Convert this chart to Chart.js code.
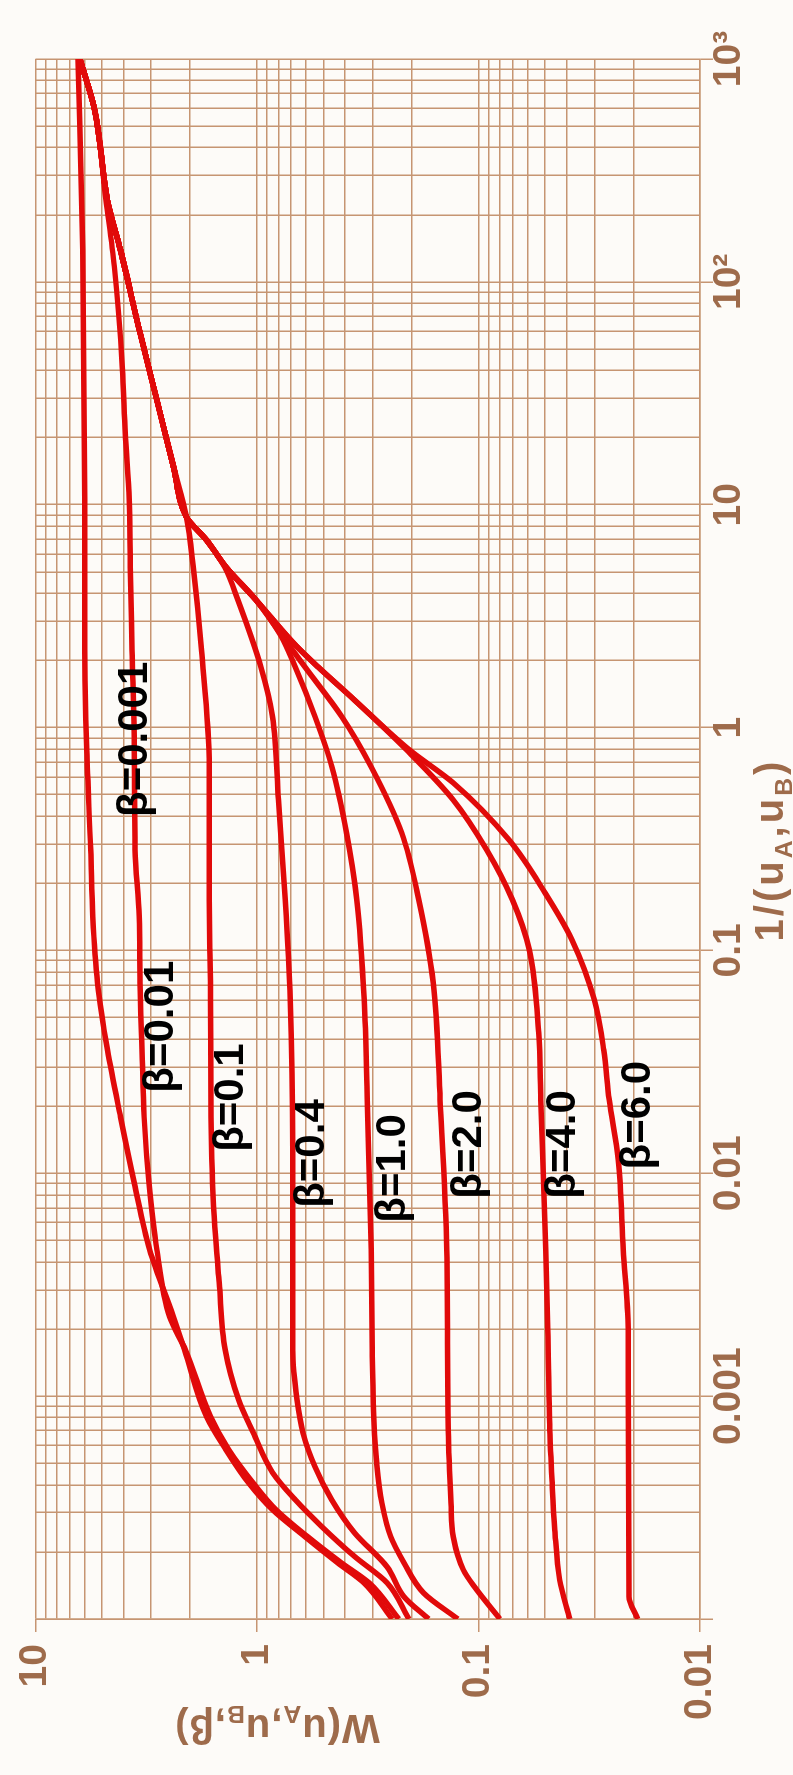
<!DOCTYPE html>
<html>
<head>
<meta charset="utf-8">
<script src="https://cdn.jsdelivr.net/npm/chart.js@4.4.1/dist/chart.umd.min.js"></script>
<style>
  html, body { margin: 0; padding: 0; background: #fdfbf8; overflow: hidden; }
  /* chart is drawn landscape, then turned a quarter counter-clockwise */
  #wrap { position: absolute; left: 0; top: 0; width: 1775px; height: 793px;
          transform-origin: 0 0; transform: translateY(1775px) rotate(-90deg); }
</style>
</head>
<body>
<div id="wrap"><canvas id="typeCurves" width="1775" height="793"></canvas></div>
<script>
// tick labels
const X_TICKS = [0.001, 0.01, 0.1, 1, 10, 100, 1000]
const X_TICK_LABELS = ['0.001', '0.01', '0.1', '1', '10', '10²', '10³']
const Y_TICKS = [0.01, 0.1, 1, 10]
const Y_TICK_LABELS = ['0.01', '0.1', '1', '10']

// curves: 1/u values and W(uA,uB,beta)
const B0001_U = [0.0001, 0.000145, 0.000179, 0.000234, 0.000309, 0.000408, 0.000575, 0.00081, 0.00161, 0.00227, 0.00454, 0.00906, 0.0179, 0.0358, 0.0716, 0.142, 0.283, 0.794, 2.23, 10.5, 139, 1000]
const B0001_W = [0.245, 0.328, 0.433, 0.607, 0.85, 1.09, 1.38, 1.69, 2.12, 2.38, 3.05, 3.58, 4.13, 4.73, 5.24, 5.51, 5.63, 5.87, 5.99, 5.99, 6.11, 6.43]

const B001_U = [0.0001, 0.000145, 0.000179, 0.000234, 0.000309, 0.000408, 0.000575, 0.00081, 0.00161, 0.00227, 0.00454, 0.00906, 0.0179, 0.0358, 0.0716, 0.142, 0.283, 0.794, 2.23, 5.26, 10.5, 21.0, 41.5, 117, 233, 590, 1000]
const B001_W = [0.229, 0.311, 0.417, 0.59, 0.819, 1.04, 1.34, 1.62, 2.10, 2.48, 2.83, 3.07, 3.23, 3.30, 3.37, 3.40, 3.55, 3.58, 3.66, 3.73, 3.77, 3.93, 4.05, 4.40, 4.80, 5.40, 6.30]

const B01_U = [0.0001, 0.000145, 0.000191, 0.00026, 0.000343, 0.000454, 0.000686, 0.000964, 0.00161, 0.00323, 0.00638, 0.0179, 0.060, 0.169, 0.667, 2.23, 5.26, 8.81, 14.8, 29.5, 59.0, 139, 233, 590, 1000]
const B01_W = [0.206, 0.258, 0.363, 0.51, 0.672, 0.85, 1.04, 1.21, 1.39, 1.48, 1.56, 1.61, 1.62, 1.64, 1.64, 1.78, 1.94, 2.08, 2.38, 2.83, 3.37, 4.13, 4.73, 5.40, 6.30]

const B04_U = [0.0001, 0.000126, 0.000171, 0.000244, 0.000343, 0.000482, 0.000686, 0.000964, 0.00161, 0.0127, 0.060, 0.169, 0.474, 1.12, 1.87, 3.74, 5.26, 6.95, 8.81, 14.8, 29.5, 59.0, 139, 233, 590, 1000]
const B04_W = [0.168, 0.217, 0.258, 0.363, 0.46, 0.547, 0.62, 0.66, 0.69, 0.69, 0.707, 0.745, 0.80, 0.85, 0.96, 1.22, 1.40, 1.69, 2.08, 2.38, 2.83, 3.37, 4.13, 4.73, 5.40, 6.30]

const B1_U = [0.0001, 0.000131, 0.000179, 0.000234, 0.000332, 0.000502, 0.000759, 0.00161, 0.00454, 0.0214, 0.060, 0.169, 0.337, 0.667, 1.12, 1.87, 2.61, 3.74, 5.26, 6.95, 8.81, 14.8, 29.5, 59.0, 139, 233, 590, 1000]
const B1_W = [0.124, 0.177, 0.217, 0.249, 0.273, 0.288, 0.296, 0.302, 0.305, 0.318, 0.328, 0.354, 0.394, 0.459, 0.547, 0.672, 0.784, 1.01, 1.38, 1.69, 2.08, 2.38, 2.83, 3.37, 4.13, 4.73, 5.40, 6.30]

const B2_U = [0.0001, 0.000139, 0.000166, 0.000234, 0.000332, 0.000706, 0.00454, 0.0214, 0.0716, 0.169, 0.337, 0.667, 1.12, 1.87, 2.47, 3.74, 5.26, 6.95, 8.81, 14.8, 29.5, 59.0, 139, 233, 590, 1000]
const B2_W = [0.080, 0.104, 0.117, 0.130, 0.133, 0.137, 0.139, 0.149, 0.160, 0.186, 0.222, 0.305, 0.414, 0.607, 0.745, 1.01, 1.38, 1.69, 2.08, 2.38, 2.83, 3.37, 4.13, 4.73, 5.40, 6.30]

const B4_U = [0.0001, 0.00015, 0.000251, 0.000422, 0.000706, 0.002, 0.00454, 0.0214, 0.0427, 0.101, 0.169, 0.283, 0.474, 0.794, 1.33, 1.87, 2.35, 3.74, 5.26, 6.95, 8.81, 14.8, 29.5, 59.0, 139, 233, 590, 1000]
const B4_W = [0.0387, 0.043, 0.0452, 0.0466, 0.0477, 0.0487, 0.0497, 0.0523, 0.0535, 0.059, 0.0703, 0.0918, 0.130, 0.211, 0.363, 0.53, 0.672, 1.01, 1.38, 1.69, 2.08, 2.38, 2.83, 3.37, 4.13, 4.73, 5.40, 6.30]

const B6_U = [0.0001, 0.000126, 0.002, 0.00454, 0.0115, 0.0214, 0.0358, 0.060, 0.112, 0.181, 0.313, 0.565, 0.794, 1.33, 1.87, 2.35, 3.74, 5.26, 6.95, 8.81, 14.8, 29.5, 59.0, 139, 233, 590, 1000]
const B6_W = [0.0191, 0.0209, 0.0211, 0.0222, 0.0234, 0.0257, 0.0272, 0.030, 0.0379, 0.050, 0.0728, 0.130, 0.205, 0.363, 0.53, 0.672, 1.01, 1.38, 1.69, 2.08, 2.38, 2.83, 3.37, 4.13, 4.73, 5.40, 6.30]

// curve labels and where they start (1/u) / sit (W)
const BETA_LABELS = ['β=0.001', 'β=0.01', 'β=0.1', 'β=0.4', 'β=1.0', 'β=2.0', 'β=4.0', 'β=6.0']
const LABEL_U = [0.397, 0.0230, 0.01248, 0.0070, 0.0060, 0.00769, 0.00769, 0.0104]
const LABEL_W = [3.55, 2.69, 1.31, 0.559, 0.243, 0.110, 0.0412, 0.0189]

const SERIES = [
    [B0001_U, B0001_W], [B001_U, B001_W], [B01_U, B01_W], [B04_U, B04_W],
    [B1_U, B1_W], [B2_U, B2_W], [B4_U, B4_W], [B6_U, B6_W]
]

const GRID = '#c69572'
const TEXT = '#9e6b4b'
const FONT = '"Liberation Sans", Arial, sans-serif'

function gridValues(e0, e1) {
    let out = []
    for (let e = e0; e < e1; e++) {
        for (let m = 1; m <= 9; m++) {
            out.push(parseFloat((m * Math.pow(10, e)).toPrecision(6)))
        }
    }
    out.push(Math.pow(10, e1))
    return out
}

function isDecade(v) {
    if (!v) return false
    let l = Math.log10(v)
    return Math.abs(l - Math.round(l)) < 1e-6
}

function tickText(v, ticks, labels) {
    let i = ticks.findIndex(t => Math.abs(t - v) / t < 1e-6)
    return i >= 0 ? labels[i] : ''
}

// text with subscripts: parts are [text, isSub]
function drawParts(ctx, parts, size, spacing) {
    ctx.letterSpacing = spacing + 'px'
    let widths = parts.map(p => {
        ctx.font = 'bold ' + (p[1] ? size * 0.62 : size) + 'px ' + FONT
        return ctx.measureText(p[0]).width
    })
    let total = widths.reduce((a, b) => a + b, 0)
    let x = -total / 2
    parts.forEach((p, i) => {
        ctx.font = 'bold ' + (p[1] ? size * 0.62 : size) + 'px ' + FONT
        ctx.fillText(p[0], x, p[1] ? size * 0.22 : 0)
        x += widths[i]
    })
    ctx.letterSpacing = '0px'
}

const textPlugin = {
    id: 'textPlugin',
    beforeDraw(chart) {
        let ctx = chart.ctx
        ctx.save()
        ctx.fillStyle = '#fdfbf8'
        ctx.fillRect(0, 0, chart.width, chart.height)
        ctx.restore()
    },
    afterDraw(chart) {
        let ctx = chart.ctx
        let xs = chart.scales.x
        let ys = chart.scales.y
        ctx.save()
        ctx.fillStyle = '#000'
        ctx.font = 'bold 42px ' + FONT
        ctx.textAlign = 'left'
        ctx.textBaseline = 'middle'
        BETA_LABELS.forEach((t, i) => {
            ctx.fillText(t, xs.getPixelForValue(LABEL_U[i]), ys.getPixelForValue(LABEL_W[i]))
        })

        ctx.fillStyle = TEXT
        ctx.textAlign = 'left'
        ctx.textBaseline = 'alphabetic'
        // axis titles
        ctx.save()
        ctx.translate(60, 277)
        ctx.rotate(-Math.PI / 2)
        drawParts(ctx, [['W(u', 0], ['A', 1], [',u', 0], ['B', 1], [',β)', 0]], 40, 1)
        ctx.restore()

        ctx.save()
        ctx.translate(925, 783)
        drawParts(ctx, [['1/(u', 0], ['A', 1], [',u', 0], ['B', 1], [')', 0]], 40, 3)
        ctx.restore()
        ctx.restore()
    }
}

const gridOpts = {
    color: GRID,
    lineWidth: 1.5,
    tickLength: 13,
    tickColor: (c) => isDecade(c.tick && c.tick.value) ? GRID : 'rgba(0,0,0,0)'
}

const config = {
    type: 'scatter',
    data: {
        datasets: SERIES.map(([u, w], k) => ({
            label: BETA_LABELS[k],
            data: u.map((v, i) => ({ x: v, y: w[i] })),
            showLine: true,
            pointRadius: 0,
            borderColor: '#e10a0a',
            borderWidth: 5.5,
            borderJoinStyle: 'round',
            cubicInterpolationMode: 'monotone',
            fill: false
        }))
    },
    options: {
        responsive: false,
        animation: false,
        layout: { padding: { top: 27, right: 59, bottom: 0, left: 0 } },
        plugins: { legend: { display: false }, tooltip: { enabled: false } },
        scales: {
            x: {
                type: 'logarithmic',
                position: 'bottom',
                min: 1e-4,
                max: 1e3,
                afterBuildTicks: (s) => { s.ticks = gridValues(-4, 3).map(v => ({ value: v })) },
                afterFit: (s) => { s.height = 93 },
                grid: gridOpts,
                border: { color: GRID, width: 1.5 },
                ticks: {
                    autoSkip: false, maxRotation: 0, minRotation: 0, padding: -7,
                    color: TEXT,
                    font: { family: FONT, size: 39, weight: 'bold' },
                    callback: (v) => tickText(v, X_TICKS, X_TICK_LABELS)
                }
            },
            y: {
                type: 'logarithmic',
                position: 'left',
                min: 0.01,
                max: 10,
                afterBuildTicks: (s) => { s.ticks = gridValues(-2, 1).map(v => ({ value: v })) },
                afterFit: (s) => { s.width = 156 },
                grid: gridOpts,
                border: { color: GRID, width: 1.5 },
                ticks: {
                    autoSkip: false, padding: 12,
                    color: TEXT,
                    font: { family: FONT, size: 39, weight: 'bold' },
                    callback: (v) => tickText(v, Y_TICKS, Y_TICK_LABELS)
                }
            }
        }
    },
    plugins: [textPlugin]
}

new Chart(document.getElementById('typeCurves'), config)
</script>
</body>
</html>
